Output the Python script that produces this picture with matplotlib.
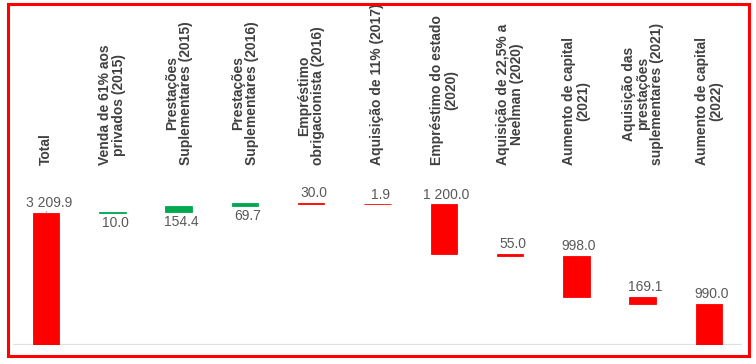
import matplotlib

matplotlib.use('Agg')
import matplotlib.pyplot as plt
from matplotlib.patches import Rectangle

plt.rcParams['font.family'] = ['Liberation Sans', 'DejaVu Sans']

categories = [
    'Total',
    'Venda de 61% aos\nprivados (2015)',
    'Prestações\nSuplementares (2015)',
    'Prestações\nSuplementares (2016)',
    'Empréstimo\nobrigacionista (2016)',
    'Aquisição de 11% (2017)',
    'Empréstimo do estado\n(2020)',
    'Aquisição de 22,5% a\nNeelman (2020)',
    'Aumento de capital\n(2021)',
    'Aquisição das\nprestações\nsuplementares (2021)',
    'Aumento de capital\n(2022)',
]
values = [3209.9, -10.0, -154.4, -69.7, 30.0, 1.9, 1200.0, 55.0, 998.0, 169.1, 990.0]
value_labels = ['3 209.9', '10.0', '154.4', '69.7', '30.0', '1.9',
                '1 200.0', '55.0', '998.0', '169.1', '990.0']

RED = '#FF0000'
GREEN = '#00A84F'
LABEL_COLOR = '#404040'
VALUE_COLOR = '#595959'

# waterfall levels, built from the right end towards the total
bottoms = [0.0] * len(values)
heights = [0.0] * len(values)
cum = 0.0
for i in range(len(values) - 1, 0, -1):
    start = cum
    cum += values[i]
    bottoms[i] = min(start, cum)
    heights[i] = abs(values[i])
bottoms[0] = 0.0
heights[0] = values[0]

W, H = 756, 364
fig = plt.figure(figsize=(W / 100, H / 100), dpi=100)
fig.patch.set_facecolor('white')
ax = fig.add_axes([13 / W, (H - 345) / H, 729 / W, 175 / H])

x = list(range(len(values)))
colors = [RED if v > 0 else GREEN for v in values]
ax.bar(x, heights, bottom=bottoms, width=0.4, color=colors,
       edgecolor=colors, linewidth=0.6)

ax.set_xlim(-0.5, len(values) - 0.5)
ax.set_ylim(0, 175 / 0.0412)
ax.axhline(0, color='#e0e0e0', lw=1.6, zorder=0)
for s in ax.spines.values():
    s.set_visible(False)
ax.set_xticks([])
ax.set_yticks([])

for i, (b, h, v) in enumerate(zip(bottoms, heights, values)):
    if v > 0:
        ax.annotate(value_labels[i], (i, b + h), xytext=(2, 2), textcoords='offset points',
                    ha='center', va='bottom', fontsize=10, color=VALUE_COLOR)
    else:
        ax.annotate(value_labels[i], (i, b), xytext=(2, -2), textcoords='offset points',
                    ha='center', va='top', fontsize=10, color=VALUE_COLOR)

# small leader line under the total label
ax.annotate('', xy=(0, heights[0]), xytext=(0.03, heights[0] + 90),
            arrowprops=dict(arrowstyle='-', color='#a6a6a6', lw=0.8))

for i, lab in enumerate(categories):
    ax.text(i, 1.029, lab, transform=ax.get_xaxis_transform(), rotation=90,
            ha='center', va='bottom', multialignment='center', fontsize=10,
            fontweight='bold', color=LABEL_COLOR, clip_on=False, linespacing=1.0)

fig.patches.append(Rectangle((7.5 / W, 1 - 355.5 / H), 741 / W, 352 / H,
                             transform=fig.transFigure, fill=False,
                             edgecolor='red', linewidth=2.2))

fig.savefig('out.png', dpi=100)
plt.close(fig)
